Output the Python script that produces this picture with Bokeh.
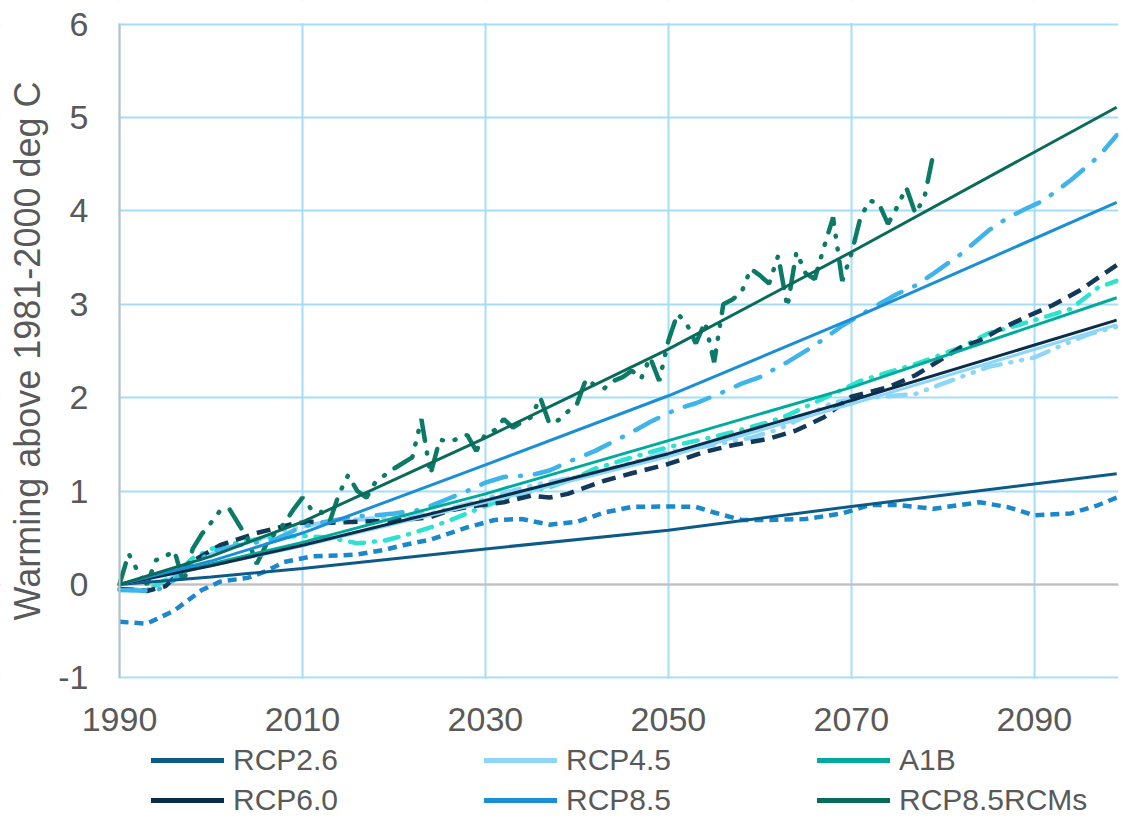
from bokeh.plotting import figure
from bokeh.models import (Legend, LegendItem, Span, FixedTicker, Range1d, BoxAnnotation,
                          CustomJSTickFormatter)
from bokeh.embed import file_html
from bokeh.resources import INLINE

# ---------------- data ----------------
x_ticks = [1990, 2010, 2030, 2050, 2070, 2090]
y_ticks = [-1, 0, 1, 2, 3, 4, 5, 6]

# trend lines (solid)
trend_years = [1990, 2000, 2010, 2030, 2050, 2070, 2099]
rcp26_trend = [0.0, 0.08, 0.17, 0.38, 0.58, 0.835, 1.185]
rcp45_trend = [0.0, 0.20, 0.41, 0.88, 1.37, 1.93, 2.78]
a1b_trend = [0.0, 0.22, 0.45, 0.97, 1.54, 2.11, 3.07]
rcp60_trend = [0.0, 0.20, 0.42, 0.90, 1.40, 1.97, 2.83]
rcp85_trend = [0.0, 0.25, 0.55, 1.28, 2.02, 2.84, 4.09]
rcms_trend = [0.0, 0.30, 0.67, 1.57, 2.52, 3.56, 5.11]

# model series (dashed)
rcp26_years = [1990, 1993, 1996, 1999, 2001, 2004, 2006, 2008, 2011, 2014, 2016, 2019, 2021,
               2024, 2028, 2031, 2034, 2037, 2040, 2043, 2046, 2050, 2053, 2055, 2058, 2061,
               2065, 2069, 2072, 2075, 2079, 2084, 2087, 2090, 2094, 2097, 2099]
rcp26_vals = [-0.40, -0.42, -0.28, -0.06, 0.03, 0.07, 0.14, 0.24, 0.30, 0.31, 0.32, 0.37, 0.42,
              0.48, 0.61, 0.69, 0.70, 0.64, 0.67, 0.77, 0.83, 0.835, 0.83, 0.77, 0.69, 0.69,
              0.70, 0.76, 0.85, 0.85, 0.81, 0.88, 0.83, 0.74, 0.76, 0.85, 0.93]

rcp45_years = [1990, 1993, 1996, 1999, 2002, 2005, 2008, 2011, 2014, 2017, 2020, 2024, 2028,
               2032, 2036, 2040, 2043, 2047, 2050, 2054, 2059, 2062, 2065, 2068, 2072, 2077,
               2080, 2085, 2090, 2093, 2096, 2099]
rcp45_vals = [-0.05, -0.06, 0.08, 0.28, 0.40, 0.48, 0.58, 0.64, 0.68, 0.70, 0.72, 0.76, 0.86,
              0.98, 1.08, 1.15, 1.22, 1.33, 1.42, 1.48, 1.57, 1.66, 1.80, 1.95, 2.00, 2.04,
              2.15, 2.33, 2.43, 2.56, 2.68, 2.76]

a1b_years = [1990, 1993, 1996, 1998, 2000, 2003, 2006, 2010, 2013, 2016, 2019, 2021, 2024,
             2027, 2030, 2034, 2037, 2040, 2042, 2046, 2050, 2054, 2057, 2061, 2063, 2068,
             2071, 2074, 2077, 2079, 2082, 2085, 2088, 2091, 2094, 2097, 2099]
a1b_vals = [-0.05, -0.06, 0.10, 0.28, 0.38, 0.45, 0.50, 0.52, 0.50, 0.44, 0.47, 0.52, 0.61,
            0.72, 0.84, 0.98, 1.04, 1.15, 1.24, 1.36, 1.47, 1.56, 1.63, 1.74, 1.81, 2.04,
            2.18, 2.27, 2.36, 2.43, 2.54, 2.69, 2.77, 2.86, 2.95, 3.18, 3.25]

rcp60_years = [1990, 1993, 1995, 1998, 2001, 2005, 2009, 2011, 2013, 2016, 2019, 2021, 2024,
               2026, 2028, 2032, 2035, 2037, 2039, 2043, 2046, 2050, 2054, 2057, 2061, 2064,
               2067, 2070, 2074, 2077, 2079, 2082, 2084, 2086, 2089, 2092, 2095, 2099]
rcp60_vals = [-0.05, -0.07, -0.02, 0.25, 0.42, 0.55, 0.65, 0.67, 0.66, 0.67, 0.68, 0.69, 0.72,
              0.79, 0.83, 0.88, 0.95, 0.93, 0.97, 1.11, 1.19, 1.29, 1.42, 1.49, 1.56, 1.65,
              1.79, 2.01, 2.11, 2.24, 2.36, 2.54, 2.61, 2.72, 2.86, 2.99, 3.15, 3.42]

rcp85_years = [1990, 1994, 1996, 1998, 2000, 2003, 2007, 2010, 2013, 2016, 2018, 2020, 2023,
               2026, 2028, 2030, 2032, 2035, 2037, 2039, 2042, 2044, 2046, 2048, 2051, 2053,
               2056, 2058, 2060, 2063, 2066, 2069, 2073, 2075, 2077, 2079, 2082, 2085, 2087,
               2089, 2091, 2094, 2097, 2099]
rcp85_vals = [-0.06, -0.07, 0.05, 0.20, 0.35, 0.42, 0.48, 0.62, 0.68, 0.73, 0.74, 0.76, 0.80,
              0.92, 1.00, 1.09, 1.15, 1.17, 1.22, 1.31, 1.43, 1.53, 1.63, 1.74, 1.88, 1.94,
              2.06, 2.15, 2.22, 2.38, 2.56, 2.77, 3.00, 3.11, 3.20, 3.33, 3.54, 3.79, 3.92,
              4.02, 4.11, 4.33, 4.58, 4.81]

rcms_years = list(range(1990, 2080))
rcms_vals = [0.00, 0.33, 0.14, 0.00, 0.26, 0.30, 0.36, 0.02, 0.38, 0.54,
             0.66, 0.79, 0.81, 0.65, 0.49, 0.22, 0.42, 0.55, 0.65, 0.80,
             0.93, 0.80, 0.78, 0.68, 0.97, 1.17, 1.00, 0.93, 1.10, 1.17,
             1.24, 1.30, 1.36, 1.77, 1.18, 1.55, 1.53, 1.56, 1.60, 1.43,
             1.61, 1.65, 1.77, 1.68, 1.74, 1.79, 2.00, 1.72, 1.76, 1.85,
             1.93, 2.20, 2.13, 2.10, 2.18, 2.22, 2.29, 2.20, 2.43, 2.18,
             2.61, 2.90, 2.79, 2.58, 2.81, 2.38, 3.00, 3.05, 3.13, 3.38,
             3.31, 3.22, 3.52, 2.97, 3.56, 3.33, 3.27, 3.61, 3.93, 3.25,
             3.54, 3.93, 4.11, 4.08, 3.86, 4.04, 4.25, 3.97, 4.15, 4.63]

labels = ["RCP2.6", "RCP4.5", "A1B", "RCP6.0", "RCP8.5", "RCP8.5RCMs"]

# ---------------- style ----------------
FONT = "Liberation Sans"
TXT = "#595959"
GRID = "#A3DDF9"
AXIS = "#BFBFBF"

C_RCP26 = "#0E5A87"
C_RCP45 = "#8DD6F7"
C_A1B = "#00AB9E"
C_RCP60 = "#0A2E4A"
C_RCP85 = "#1A8FD6"
C_RCMS = "#0A6B5A"

X_MIN, X_MAX = x_ticks[0], 2099.2
Y_MIN, Y_MAX = y_ticks[0], y_ticks[-1]
PX_X = 999 / (X_MAX - X_MIN)        # pixels per year
PX_Y = 653.7 / (Y_MAX - Y_MIN)      # pixels per degree
# the frame covers the whole canvas; axes are pinned at 1990 / -1
FRAME_X0 = X_MIN - 119 / PX_X
FRAME_Y0 = Y_MIN - 139.7 / PX_Y
FRAME_Y1 = Y_MAX + 23.6 / PX_Y

p = figure(width=1122, height=817, output_backend="svg", toolbar_location=None,
           x_range=Range1d(FRAME_X0, X_MAX), y_range=Range1d(FRAME_Y0, FRAME_Y1),
           min_border_left=0, min_border_right=4, min_border_top=0,
           min_border_bottom=0)
p.outline_line_color = None
p.background_fill_color = "white"
p.border_fill_color = "white"

p.xaxis.ticker = FixedTicker(ticks=x_ticks)
p.yaxis.ticker = FixedTicker(ticks=y_ticks)
p.xgrid.ticker = FixedTicker(ticks=x_ticks)
p.ygrid.ticker = FixedTicker(ticks=y_ticks)
p.grid.grid_line_color = GRID
p.grid.grid_line_width = 2

for ax in (p.xaxis, p.yaxis):
    ax.major_tick_line_color = None
    ax.minor_tick_line_color = None
    ax.major_tick_out = 0
    ax.major_tick_in = 0
    ax.minor_tick_out = 0
    ax.minor_tick_in = 0
    ax.major_label_text_font = FONT
    ax.major_label_text_font_size = "34px"
    ax.major_label_text_color = TXT
    ax.formatter = CustomJSTickFormatter(code="return String(tick);")

p.xaxis.axis_line_color = None
p.xaxis.fixed_location = Y_MIN
p.xaxis.major_label_standoff = 30

p.yaxis.axis_line_color = AXIS
p.yaxis.axis_line_width = 2
p.yaxis.fixed_location = X_MIN
p.yaxis.bounds = (Y_MIN, Y_MAX)
p.yaxis.major_label_standoff = 31
p.yaxis.axis_label = "Warming above 1981-2000 deg C"
p.yaxis.axis_label_text_font = FONT
p.yaxis.axis_label_text_font_size = "36px"
p.yaxis.axis_label_text_font_style = "normal"
p.yaxis.axis_label_text_color = TXT
p.yaxis.axis_label_standoff = 7

zero = Span(location=0, dimension="width", line_color=AXIS, line_width=2, level="underlay")
p.add_layout(zero)

# white covers so the grid stops at the plot area
ex = 1.0 / PX_Y
p.add_layout(BoxAnnotation(top=Y_MIN - ex, fill_color="white", fill_alpha=1.0,
                           line_color=None, level="underlay"))
p.add_layout(BoxAnnotation(bottom=Y_MAX + ex, fill_color="white", fill_alpha=1.0,
                           line_color=None, level="underlay"))
p.add_layout(BoxAnnotation(right=X_MIN - 1.0 / PX_X, fill_color="white", fill_alpha=1.0,
                           line_color=None, level="underlay"))

# dashed model series
p.line(rcp26_years, rcp26_vals, line_color="#1B87CC", line_width=4.5, line_dash="9 6")
p.line(rcp45_years, rcp45_vals, line_color=C_RCP45, line_width=4.5,
       line_dash="18 10 1 10 1 10", line_cap="round")
p.line(a1b_years, a1b_vals, line_color="#2DE3D0", line_width=4.5,
       line_dash="14 10 1 10", line_cap="round")
p.line(rcp60_years, rcp60_vals, line_color="#12395A", line_width=4.5, line_dash="14 8")
p.line(rcp85_years, rcp85_vals, line_color="#3FB4EA", line_width=4.5,
       line_dash="26 14 1 14", line_cap="round")
p.line(rcms_years, rcms_vals, line_color="#0B7A66", line_width=4.5,
       line_dash="22 12 1 12 1 12", line_cap="round")

# solid trend lines
p.line(trend_years, rcp26_trend, line_color=C_RCP26, line_width=3)
p.line(trend_years, rcp45_trend, line_color=C_RCP45, line_width=3)
p.line(trend_years, a1b_trend, line_color=C_A1B, line_width=3)
p.line(trend_years, rcp60_trend, line_color=C_RCP60, line_width=3)
p.line(trend_years, rcp85_trend, line_color=C_RCP85, line_width=3)
p.line(trend_years, rcms_trend, line_color=C_RCMS, line_width=3)

# legend-only glyph renderers (one non-drawable point each)
colors = [C_RCP26, C_RCP45, C_A1B, C_RCP60, C_RCP85, C_RCMS]
nan = float("nan")
leg_r = [p.line([trend_years[0]], [nan], line_color=c, line_width=5, line_cap="round")
         for c in colors]

legend = Legend(items=[LegendItem(label=labels[i], renderers=[leg_r[i]]) for i in range(6)],
                location=(151, -1), orientation="horizontal", ncols=3,
                glyph_width=73, glyph_height=36, label_height=36, label_width=247,
                label_standoff=9, spacing=4, padding=0, margin=0,
                border_line_color=None, background_fill_alpha=0,
                label_text_font=FONT, label_text_font_size="30px",
                label_text_color=TXT)
p.add_layout(legend, "center")

open("out.html", "w").write(file_html(p, INLINE))
